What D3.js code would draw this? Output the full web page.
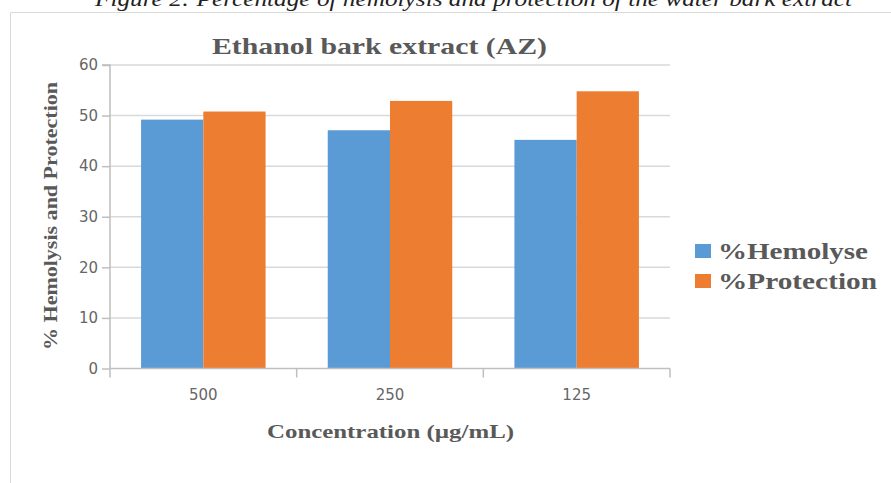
<!DOCTYPE html>
<html><head><meta charset="utf-8">
<script src="https://cdn.jsdelivr.net/npm/d3@7"></script>
<style>body{margin:0;background:#fff;} svg{display:block;}</style>
</head><body>
<svg id="c" width="891" height="483"></svg>
<script>
const categories = ["500", "250", "125"];
const seriesNames = ["%Hemolyse", "%Protection"];
const hemolyse = [49.2, 47.1, 45.2];
const protection = [50.8, 52.9, 54.8];
const yTicks = [0, 10, 20, 30, 40, 50, 60];
const colors = ["#5b9bd5", "#ed7d31"];

const svg = d3.select("#c");
const serif = "'Liberation Serif','Times New Roman',serif";
const sans = "'DejaVu Sans',Verdana,sans-serif";
const L = 110, R = 670, T = 65, B = 368.5;

// caption (cropped at top, as in the reference)
svg.append("text").attr("x", 95).attr("y", 6)
  .attr("font-family", serif).attr("font-style", "italic").attr("font-size", 21)
  .attr("fill", "#222").attr("textLength", 757).attr("lengthAdjust", "spacingAndGlyphs")
  .text("Figure 2: Percentage of hemolysis and protection of the water bark extract");

// frame
svg.append("path").attr("d", "M10.5,483 V12.5 H891").attr("fill", "none")
  .attr("stroke", "#d9d9d9").attr("stroke-width", 1);

const x = d3.scaleBand().domain(categories).range([L, R]).paddingInner(0.333).paddingOuter(0.1665);
const xs = d3.scaleBand().domain(seriesNames).range([0, x.bandwidth()]);
const y = d3.scaleLinear().domain([0, 60]).range([B, T]);

// gridlines
svg.append("g").selectAll("line").data(yTicks.filter(d => d > 0)).join("line")
  .attr("x1", L).attr("x2", R).attr("y1", d => y(d)).attr("y2", d => y(d))
  .attr("stroke", "#d9d9d9").attr("stroke-width", 1.5);

// bars
const data = categories.map((c, i) => ({c, vals: [hemolyse[i], protection[i]]}));
const g = svg.append("g");
data.forEach(d => {
  d.vals.forEach((v, j) => {
    g.append("rect").attr("x", x(d.c) + xs(seriesNames[j])).attr("width", xs.bandwidth())
      .attr("y", y(v)).attr("height", y(0) - y(v)).attr("fill", colors[j]);
  });
});

// y axis
const yAxis = d3.axisLeft(y).tickValues(yTicks).tickSize(8).tickPadding(4);
const ya = svg.append("g").attr("transform", `translate(${L},0)`).call(yAxis);
ya.select(".domain").attr("stroke", "#bfbfbf").attr("stroke-width", 1.5).attr("d", `M-8,${T}H0V${B}`);
ya.selectAll(".tick line").attr("stroke", "#bfbfbf").attr("stroke-width", 1.5);
ya.selectAll(".tick text").attr("font-family", sans).attr("font-size", 15).attr("fill", "#666");

// x axis
const xa = svg.append("g").attr("transform", `translate(0,${B})`);
xa.append("line").attr("x1", L).attr("x2", R).attr("stroke", "#bfbfbf").attr("stroke-width", 1.5);
const step = x.step();
const bounds = [L].concat(categories.map(c => x(c) - x.paddingInner() * step / 2 + step));
xa.selectAll("line.tk").data(bounds).join("line").attr("class", "tk")
  .attr("x1", d => d).attr("x2", d => d).attr("y1", 0).attr("y2", 9)
  .attr("stroke", "#bfbfbf").attr("stroke-width", 1.5);
xa.selectAll("text").data(categories).join("text")
  .attr("x", d => x(d) + x.bandwidth() / 2).attr("y", 31).attr("text-anchor", "middle")
  .attr("font-family", sans).attr("font-size", 15).attr("fill", "#666").text(d => d);

// title
svg.append("text").attr("x", 212).attr("y", 54).attr("font-family", serif).attr("font-weight", "bold")
  .attr("font-size", 23).attr("fill", "#595959").attr("textLength", 335).attr("lengthAdjust", "spacingAndGlyphs")
  .text("Ethanol bark extract (AZ)");

// axis titles
svg.append("text").attr("x", 267).attr("y", 438).attr("font-family", serif).attr("font-weight", "bold")
  .attr("font-size", 19).attr("fill", "#595959").attr("textLength", 247).attr("lengthAdjust", "spacingAndGlyphs")
  .text("Concentration (µg/mL)");
svg.append("text").attr("transform", "translate(57,350) rotate(-90)").attr("font-family", serif)
  .attr("font-weight", "bold").attr("font-size", 18).attr("fill", "#595959")
  .attr("textLength", 268).attr("lengthAdjust", "spacingAndGlyphs")
  .text("% Hemolysis and Protection");

// legend
const leg = svg.append("g");
seriesNames.forEach((s, i) => {
  leg.append("rect").attr("x", 695).attr("y", 244 + i * 30).attr("width", 16).attr("height", 14).attr("fill", colors[i]);
  leg.append("text").attr("x", 718).attr("y", 259 + i * 30).attr("font-family", serif).attr("font-weight", "bold")
    .attr("font-size", 23).attr("fill", "#595959")
    .attr("textLength", i === 0 ? 150 : 159).attr("lengthAdjust", "spacingAndGlyphs").text(s);
});
</script>
</body></html>
